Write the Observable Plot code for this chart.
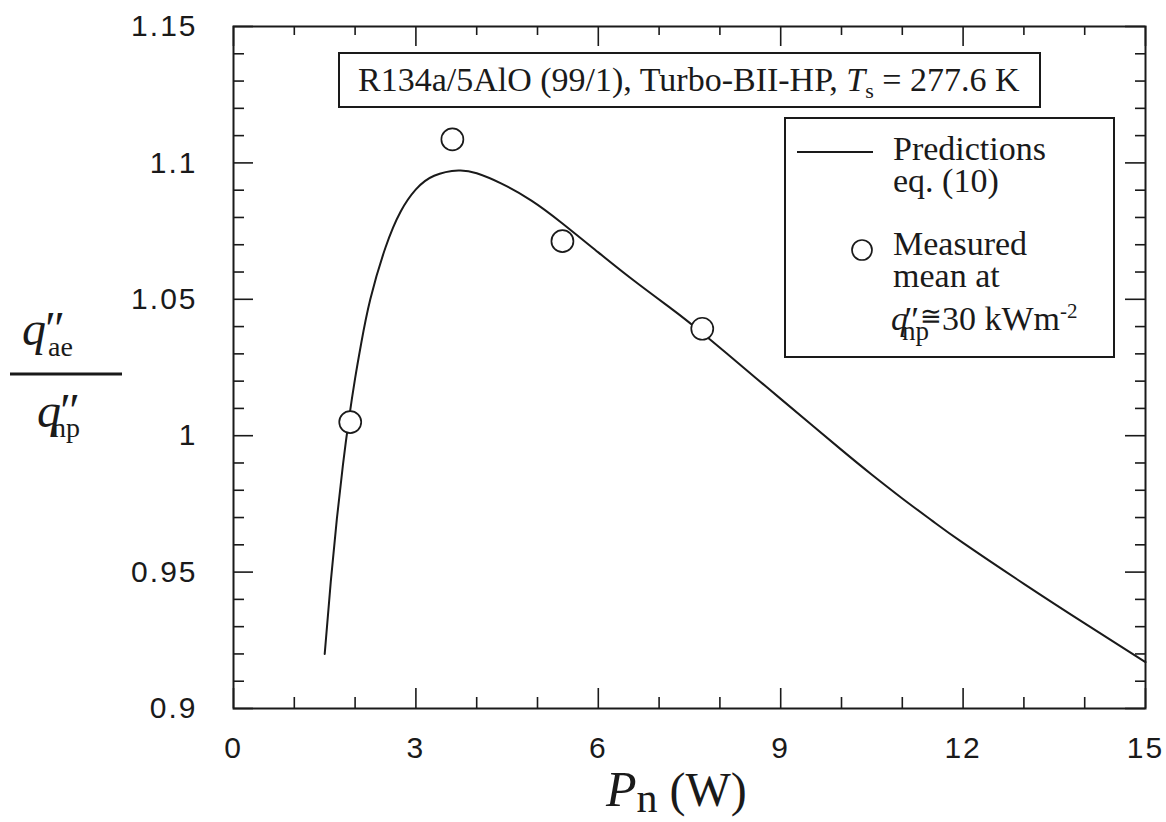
<!DOCTYPE html>
<html><head><meta charset="utf-8">
<script src="https://cdn.jsdelivr.net/npm/d3@7"></script>
<script src="https://cdn.jsdelivr.net/npm/@observablehq/plot@0.6"></script>
<style>
body{margin:0;background:#fff;}
#wrap{position:relative;width:1166px;height:822px;}
#wrap svg text.tick{letter-spacing:2px;}
</style></head><body><div id="wrap"></div>
<script>
// Prediction curve (eq. 10)
const curveP = [1.5, 1.6, 1.7, 1.8, 1.9, 2.0, 2.1, 2.25, 2.5, 2.75, 3.0, 3.3, 3.7, 4.0, 4.4, 4.9, 5.4, 6.0, 6.6, 7.2, 7.7, 8.6, 9.0, 10.0, 10.5, 11.0, 11.5, 12.0, 13.0, 14.0, 15.0];
const curveRatio = [0.9200, 0.9465, 0.9695, 0.9893, 1.0063, 1.0210, 1.0338, 1.0500, 1.0690, 1.0822, 1.0903, 1.0953, 1.0972, 1.0962, 1.0925, 1.0862, 1.0780, 1.0672, 1.0566, 1.0466, 1.0378, 1.0210, 1.0135, 0.9948, 0.9857, 0.9770, 0.9687, 0.9607, 0.9457, 0.9312, 0.9170];
// Measured means
const measP = [1.92, 3.60, 5.41, 7.71];
const measRatio = [1.005, 1.1086, 1.0713, 1.0392];
// Axis ticks
const xMajor = [0, 3, 6, 9, 12, 15];
const xTickLabels = ["0", "3", "6", "9", "12", "15"];
const xMinor = [1, 2, 4, 5, 7, 8, 10, 11, 13, 14];
const yMajor = [0.9, 0.95, 1.0, 1.05, 1.1, 1.15];
const yTickLabels = ["0.9", "0.95", "1", "1.05", "1.1", "1.15"];
const yMinor = [0.91, 0.92, 0.93, 0.94, 0.96, 0.97, 0.98, 0.99, 1.01, 1.02, 1.03, 1.04, 1.06, 1.07, 1.08, 1.09, 1.11, 1.12, 1.13, 1.14];

const curve = curveP.map((p, i) => ({p, r: curveRatio[i]}));
const meas = measP.map((p, i) => ({p, r: measRatio[i]}));

const W = 1166, H = 822, mL = 233, mR = 21, mT = 26, mB = 114;
const iW = W - mL - mR, iH = H - mT - mB;
const ink = "#1a1a1a";
const MAJ = 20, MIN = 11;

const chart = Plot.plot({
  width: W, height: H,
  marginLeft: mL, marginRight: mR, marginTop: mT, marginBottom: mB,
  style: {fontFamily: "'Liberation Sans', Arial, sans-serif", color: ink, background: "white"},
  x: {domain: [0, 15]},
  y: {domain: [0.9, 1.15]},
  marks: [
    Plot.tickX(xMajor, {x: d => d, insetTop: iH - MAJ, stroke: ink, strokeWidth: 1.6}),
    Plot.tickX(xMinor, {x: d => d, insetTop: iH - MIN, stroke: ink, strokeWidth: 1.6}),
    Plot.tickX(xMajor, {x: d => d, insetBottom: iH - MAJ, stroke: ink, strokeWidth: 1.6}),
    Plot.tickX(xMinor, {x: d => d, insetBottom: iH - MIN + 2, stroke: ink, strokeWidth: 1.6}),
    Plot.tickY(yMajor, {y: d => d, insetRight: iW - MAJ, stroke: ink, strokeWidth: 1.6}),
    Plot.tickY(yMinor, {y: d => d, insetRight: iW - MIN, stroke: ink, strokeWidth: 1.6}),
    Plot.tickY(yMajor, {y: d => d, insetLeft: iW - MAJ, stroke: ink, strokeWidth: 1.6}),
    Plot.tickY(yMinor, {y: d => d, insetLeft: iW - MIN + 1, stroke: ink, strokeWidth: 1.6}),
    Plot.axisX({ticks: xMajor, tickFormat: d => xTickLabels[xMajor.indexOf(d)], tickSize: 0, tickPadding: 28, fontSize: 30, label: null}),
    Plot.axisY({ticks: yMajor, tickFormat: d => yTickLabels[yMajor.indexOf(d)], tickSize: 0, tickPadding: 36, fontSize: 30, label: null}),
    Plot.line(curve, {x: "p", y: "r", curve: "natural", stroke: ink, strokeWidth: 2}),
    Plot.dot(meas, {x: "p", y: "r", r: 11, stroke: ink, strokeWidth: 1.7, fill: "white"}),
    Plot.frame({stroke: ink, strokeWidth: 2})
  ]
});

document.getElementById("wrap").appendChild(chart);
d3.select(chart).selectAll("g[aria-label='x-axis tick label'] text, g[aria-label='y-axis tick label'] text").attr("class", "tick");

// Annotations (title box, legend, axis titles)
const svg = d3.select(chart);
const g = svg.append("g").attr("font-family", "'Liberation Serif', 'Times New Roman', serif")
  .attr("fill", ink).attr("text-anchor", "start");

// title box
g.append("rect").attr("x", 339).attr("y", 53).attr("width", 701).attr("height", 54)
  .attr("fill", "white").attr("stroke", ink).attr("stroke-width", 2);
const t = g.append("text").attr("x", 358).attr("y", 91).attr("font-size", 34);
t.append("tspan").text("R134a/5AlO (99/1), Turbo-BII-HP, ");
t.append("tspan").attr("font-style", "italic").text("T");
t.append("tspan").attr("font-size", 22).attr("dy", 7).text("s");
t.append("tspan").attr("dy", -7).text(" = 277.6 K");

// legend box
g.append("rect").attr("x", 785).attr("y", 118).attr("width", 329).attr("height", 239)
  .attr("fill", "white").attr("stroke", ink).attr("stroke-width", 2);
g.append("line").attr("x1", 797).attr("x2", 873).attr("y1", 152).attr("y2", 152)
  .attr("stroke", ink).attr("stroke-width", 2);
g.append("circle").attr("cx", 862).attr("cy", 250).attr("r", 10)
  .attr("fill", "white").attr("stroke", ink).attr("stroke-width", 1.7);
const lg = [["Predictions", 160], ["eq. (10)", 192], ["Measured", 255], ["mean at", 287]];
lg.forEach(([s, y]) => g.append("text").attr("x", 893).attr("y", y).attr("font-size", 34).text(s));
const l3 = g.append("text").attr("font-size", 34);
l3.append("tspan").attr("x", 891).attr("y", 330).attr("font-style", "italic").text("q");
l3.append("tspan").attr("x", 902).attr("y", 332).attr("font-style", "italic").attr("font-size", 36).text("″");
l3.append("tspan").attr("x", 902).attr("y", 340).attr("font-size", 27).text("np");
l3.append("tspan").attr("x", 920).attr("y", 325).attr("font-size", 26).text("≅");
l3.append("tspan").attr("x", 942).attr("y", 330).text("30 kWm");
l3.append("tspan").attr("y", 318).attr("font-size", 21).text("-2");

// y-axis title (fraction)
g.append("line").attr("x1", 10).attr("x2", 122).attr("y1", 374).attr("y2", 374)
  .attr("stroke", ink).attr("stroke-width", 3);
const num = g.append("text").attr("font-size", 48);
num.append("tspan").attr("x", 22).attr("y", 345).attr("font-style", "italic").text("q");
num.append("tspan").attr("x", 42).attr("y", 345).attr("font-style", "italic").text("″");
num.append("tspan").attr("x", 48).attr("y", 356).attr("font-size", 28).text("ae");
const den = g.append("text").attr("font-size", 48);
den.append("tspan").attr("x", 37).attr("y", 427).attr("font-style", "italic").text("q");
den.append("tspan").attr("x", 57).attr("y", 427).attr("font-style", "italic").text("″");
den.append("tspan").attr("x", 52).attr("y", 437).attr("font-size", 28).text("np");

// x-axis title
const xl = g.append("text").attr("font-size", 50);
xl.append("tspan").attr("x", 606).attr("y", 806).attr("font-style", "italic").text("P");
xl.append("tspan").attr("y", 812).attr("font-size", 42).text("n");
xl.append("tspan").attr("y", 806).attr("font-size", 48).text(" (W)");
</script></body></html>
